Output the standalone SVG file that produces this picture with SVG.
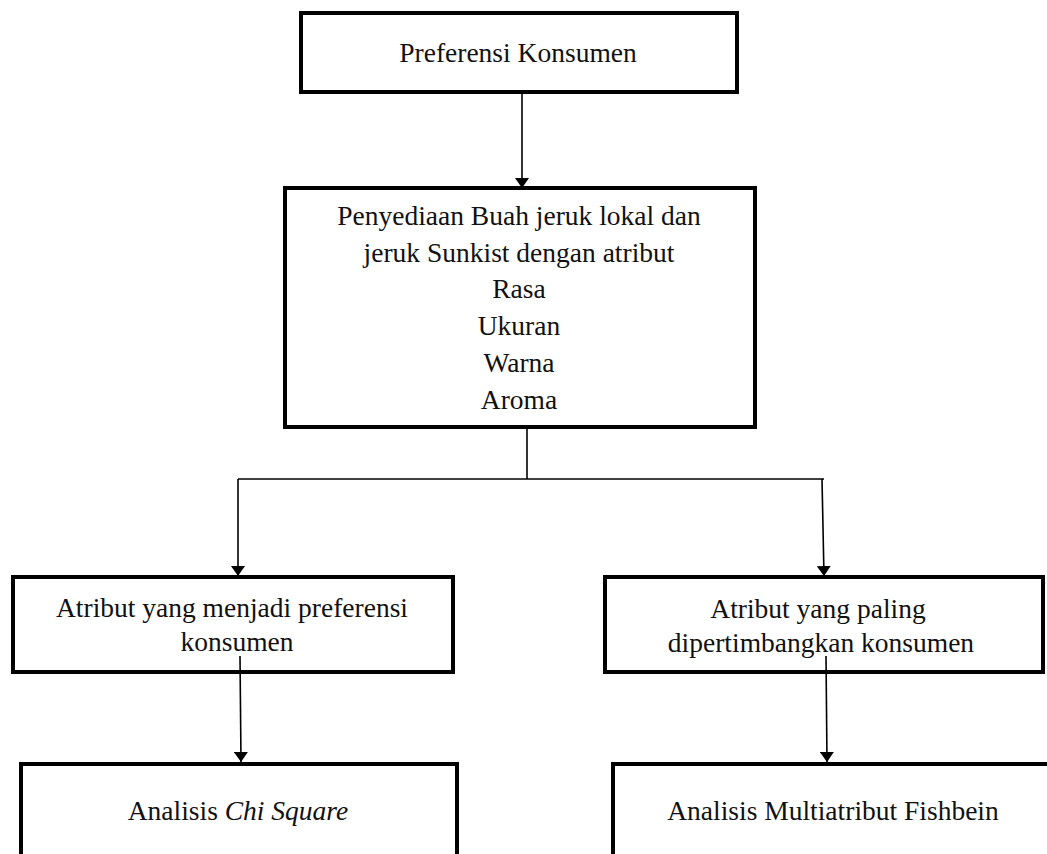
<svg xmlns="http://www.w3.org/2000/svg" width="1047" height="854" viewBox="0 0 1047 854">
<defs>
<style>
.box{fill:#fff;stroke:#000;stroke-width:4}
.t{font-family:"Liberation Serif","Times New Roman",serif;font-size:27.5px;fill:#111;text-anchor:middle}
.c{fill:none;stroke:#000;stroke-width:1.6}
</style>
<marker id="ah" viewBox="0 0 10 14" refX="10" refY="7" markerWidth="10" markerHeight="14" markerUnits="userSpaceOnUse" orient="auto">
<path d="M0,0 L10,7 L0,14 Z" fill="#000"/>
</marker>
</defs>
<rect width="1047" height="854" fill="#fff"/>
<g id="n1"><rect class="box" x="301" y="13" width="436" height="79"/><text class="t" x="518" y="62">Preferensi Konsumen</text></g>
<g id="n2"><rect class="box" x="285" y="188" width="470" height="239"/>
<text class="t" x="519" y="225">Penyediaan Buah jeruk lokal dan</text>
<text class="t" x="519" y="262">jeruk Sunkist dengan atribut</text>
<text class="t" x="519" y="298">Rasa</text>
<text class="t" x="519" y="335">Ukuran</text>
<text class="t" x="519" y="372">Warna</text>
<text class="t" x="519" y="409">Aroma</text></g>
<g id="n3"><rect class="box" x="13" y="577" width="440" height="95"/>
<text class="t" x="232" y="617">Atribut yang menjadi preferensi</text>
<text class="t" x="237" y="651">konsumen</text></g>
<g id="n4"><rect class="box" x="605" y="577" width="438" height="95"/>
<text class="t" x="818" y="618">Atribut yang paling</text>
<text class="t" x="821" y="652">dipertimbangkan konsumen</text></g>
<g id="n5"><rect class="box" x="21" y="764" width="436" height="110"/>
<text class="t" x="238" y="820">Analisis <tspan font-style="italic">Chi Square</tspan></text></g>
<g id="n6"><rect class="box" x="613" y="764" width="440" height="110"/>
<text class="t" x="833" y="820">Analisis Multiatribut Fishbein</text></g>
<g id="connectors">
<line class="c" x1="522" y1="92" x2="522" y2="188" marker-end="url(#ah)"/>
<polyline class="c" points="527,427 527,479"/>
<line class="c" x1="238" y1="479" x2="824" y2="479"/>
<line class="c" x1="238" y1="479" x2="238" y2="576" marker-end="url(#ah)"/>
<line class="c" x1="822" y1="479" x2="824" y2="576" marker-end="url(#ah)"/>
<line class="c" x1="240" y1="656" x2="241" y2="762" marker-end="url(#ah)"/>
<line class="c" x1="826" y1="656" x2="827" y2="762" marker-end="url(#ah)"/>
</g>
</svg>
